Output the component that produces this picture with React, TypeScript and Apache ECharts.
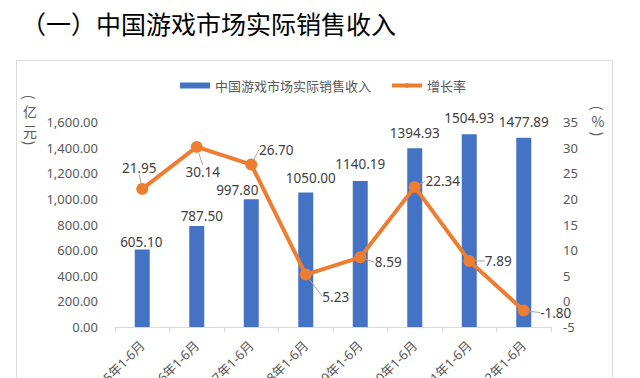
import React, { useEffect, useRef } from "react";
import * as echarts from "echarts";

const categories = [
  "2015年1-6月",
  "2016年1-6月",
  "2017年1-6月",
  "2018年1-6月",
  "2019年1-6月",
  "2020年1-6月",
  "2021年1-6月",
  "2022年1-6月",
];
const revenue = [605.1, 787.5, 997.8, 1050.0, 1140.19, 1394.93, 1504.93, 1477.89];
const growth = [21.95, 30.14, 26.7, 5.23, 8.59, 22.34, 7.89, -1.8];

const barLabelOffsets = [
  [-1, 4], [5, 2], [-14, 3], [5, -3], [0, -5], [0, -4], [0, -4], [0, -4],
];
const lineLabelOffsets = [
  [-3, -21], [6, 25], [25, -15], [30, 22], [28, 5], [28, -6], [29, 0], [32, 2],
];

const FONT = "'Noto Sans', 'Noto Sans CJK SC', sans-serif";
const CJK = "'Noto Sans CJK SC', sans-serif";

function vText(text: string, x: number, y: number, rotation = 0) {
  return {
    type: "text",
    x,
    y,
    rotation,
    style: {
      text,
      fontFamily: CJK,
      fontSize: 14,
      fill: "#595959",
      align: "center",
      verticalAlign: "middle",
    },
  };
}

export default function App() {
  const ref = useRef<HTMLDivElement>(null);
  useEffect(() => {
    if (!ref.current) return;
    const chart = echarts.init(ref.current, undefined, { renderer: "svg" });
    const fmt = (v: number) =>
      v.toLocaleString("en-US", { minimumFractionDigits: 2, maximumFractionDigits: 2 });
    chart.setOption({
      animation: false,
      backgroundColor: "#ffffff",
      textStyle: { fontFamily: FONT },
      title: {
        text: "（一）中国游戏市场实际销售收入",
        left: 21,
        top: 10,
        padding: 0,
        textStyle: {
          fontFamily: CJK,
          fontSize: 25,
          fontWeight: "normal",
          color: "#000000",
        },
      },
      graphic: [
        {
          type: "rect",
          z: -10,
          shape: { x: 16.5, y: 60.5, width: 596, height: 340 },
          style: { fill: "none", stroke: "#dcdcdc", lineWidth: 1 },
        },
        vText("(", 30, 97, -Math.PI / 2),
        vText("亿", 30, 111),
        vText("元", 30, 131),
        vText(")", 30, 143, -Math.PI / 2),
        vText("(", 598, 108, -Math.PI / 2),
        vText("%", 598, 121),
        vText(")", 598, 134, -Math.PI / 2),
      ],
      legend: {
        left: 175,
        top: 74,
        itemGap: 19,
        itemWidth: 30,
        itemHeight: 6,
        textStyle: { fontSize: 13, color: "#595959", fontFamily: FONT },
        data: [
          { name: "中国游戏市场实际销售收入", icon: "rect" },
          { name: "增长率", lineStyle: { width: 4 }, itemStyle: { borderWidth: 0 } },
        ],
      },
      grid: {
        left: 115,
        right: 89,
        top: 122,
        bottom: 51,
        containLabel: false,
        outerBoundsMode: "none",
      },
      xAxis: {
        type: "category",
        data: categories,
        axisLine: { lineStyle: { color: "#d9d9d9", width: 1 } },
        axisTick: { show: true, length: 5, lineStyle: { color: "#d9d9d9" } },
        axisLabel: {
          rotate: 45,
          margin: 16,
          fontSize: 13,
          color: "#595959",
          interval: 0,
        },
      },
      yAxis: [
        {
          type: "value",
          min: 0,
          max: 1600,
          interval: 200,
          splitLine: { show: false },
          axisLine: { show: false },
          axisTick: { show: false },
          axisLabel: {
            fontSize: 13,
            color: "#595959",
            margin: 17,
            formatter: (v: number) => fmt(v),
          },
        },
        {
          type: "value",
          min: -5,
          max: 35,
          interval: 5,
          splitLine: { show: false },
          axisLine: { show: false },
          axisTick: { show: false },
          axisLabel: { fontSize: 13, color: "#595959", margin: 12 },
        },
      ],
      series: [
        {
          name: "中国游戏市场实际销售收入",
          type: "bar",
          barWidth: 15,
          itemStyle: { color: "#4472C4" },
          data: revenue.map((v, i) => ({
            value: v,
            label: { offset: barLabelOffsets[i] },
          })),
          label: {
            show: true,
            position: "top",
            distance: 5,
            fontSize: 13.5,
            color: "#404040",
            fontFamily: FONT,
            formatter: (p: any) => Number(p.value).toFixed(2),
          },
        },
        {
          name: "增长率",
          type: "line",
          yAxisIndex: 1,
          symbol: "circle",
          symbolSize: 12,
          lineStyle: { color: "#ED7D31", width: 4 },
          itemStyle: { color: "#ED7D31" },
          data: growth,
          label: {
            show: true,
            position: "inside",
            fontSize: 13.5,
            color: "#404040",
            fontFamily: FONT,
            formatter: (p: any) => p.value.toFixed(2),
          },
          labelLine: { show: true, lineStyle: { color: "#a6a6a6", width: 1 } },
          labelLayout: (params: any) => ({
            dx: lineLabelOffsets[params.dataIndex][0],
            dy: lineLabelOffsets[params.dataIndex][1],
          }),
        },
      ],
    });
    return () => chart.dispose();
  }, []);
  return (
    <div
      ref={ref}
      style={{ position: "absolute", left: 0, top: 0, width: 640, height: 378, background: "#fff" }}
    />
  );
}
